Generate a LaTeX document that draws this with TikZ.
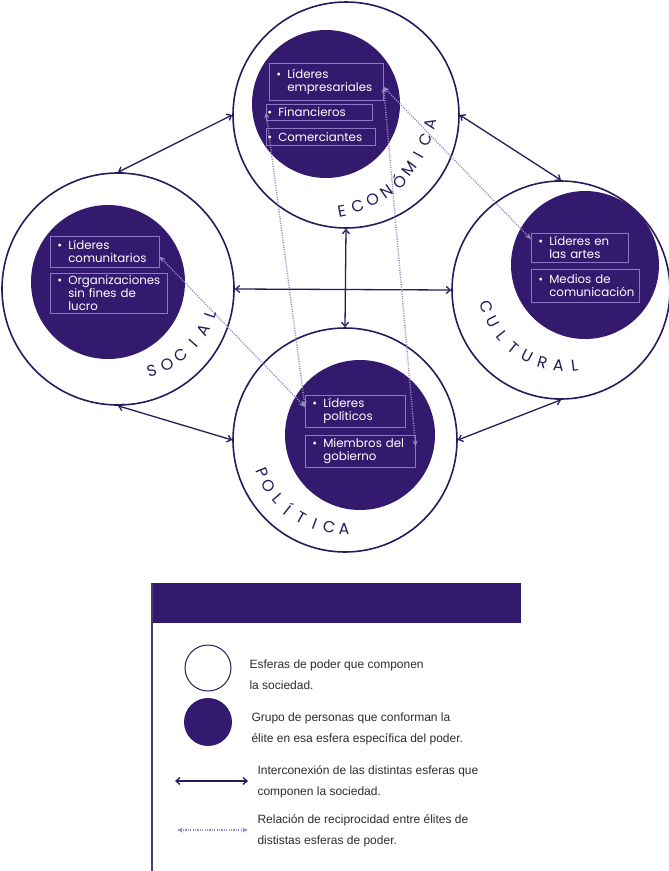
\documentclass[tikz,border=0pt]{standalone}
\usepackage{fontspec}
\setmainfont{Liberation Sans}
\newfontfamily\mfont{Poppins}
\usetikzlibrary{arrows.meta,positioning}

\definecolor{elite}{RGB}{52,26,110}
\definecolor{ring}{RGB}{40,26,92}
\definecolor{boxln}{RGB}{140,120,200}
\definecolor{recipc}{RGB}{150,140,200}
\definecolor{legtxt}{RGB}{45,45,45}

\newcommand{\blt}{\makebox[11pt][l]{\textbullet}}
\newcommand{\ind}{\hspace*{11pt}}
\hyphenpenalty=10000

\begin{document}
\begin{tikzpicture}[x=1pt,y=1pt,
        sphere/.style={circle, draw=ring, line width=1.6pt, fill=white, inner sep=0pt},
        elitecirc/.style={circle, fill=elite, inner sep=0pt},
        grp/.style={draw=boxln, line width=0.6pt, text=white, align=left,
                    anchor=north west, inner xsep=7pt, inner ysep=2pt,
                    font=\mfont\fontsize{11.8}{13}\selectfont},
        grptight/.style={grp, inner xsep=1pt},
        sphlbl/.style={text=ring, inner sep=0pt,
                       font=\mfont\fontsize{16}{16}\selectfont},
        link/.style={{Straight Barb[length=4pt,width=7pt]}-{Straight Barb[length=4pt,width=7pt]},
                     line width=1.3pt, draw=ring},
        recip/.style={{Stealth[length=6pt,width=5pt]}-{Stealth[length=6pt,width=5pt]},
                      dash pattern=on 1.1pt off 1.3pt, line width=1.4pt, draw=recipc},
        legtext/.style={anchor=west, align=left, text=legtxt,
                        font=\fontsize{12}{21}\selectfont}
      ]
        \useasboundingbox (0,0) rectangle (669,-871);

        % spheres of power
        \node[sphere, minimum size=226pt] (eco) at (346,-115) {};
        \node[sphere, minimum size=232pt] (soc) at (118,-289) {};
        \node[sphere, minimum size=218pt] (cul) at (561,-290) {};
        \node[sphere, minimum size=224pt] (pol) at (345,-440) {};

        \draw[link] (eco.west) -- (soc.north);
        \draw[link] (eco.east) -- (cul.north);
        \draw[link] (eco.south) -- (pol.north);
        \draw[link] (soc.east) -- (cul.west);
        \draw[link] (soc.south) -- (pol.west);
        \draw[link] (cul.south) -- (pol.east);

        % elites
        \node[elitecirc, minimum size=148pt] (ecoE) at (326,-104) {};
        \node[elitecirc, minimum size=154pt] (socE) at (108,-282) {};
        \node[elitecirc, minimum size=148pt] (culE) at (585,-265) {};
        \node[elitecirc, minimum size=150pt] (polE) at (360,-435) {};

        \node[grp, text width=100pt, minimum height=37pt] (emp) at (269,-63)
          {\blt L\'ideres\\\ind empresariales};
        \node[grptight, text width=104pt, minimum height=16pt] (fin) at (266,-104)
          {\blt Financieros};
        \node[grptight, text width=107pt, minimum height=17pt] (com) at (266,-128)
          {\blt Comerciantes};

        \node[grp, text width=95pt, minimum height=31pt] (comu) at (50,-236)
          {\blt L\'ideres\\\ind comunitarios};
        \node[grp, text width=103pt, minimum height=40pt] (ong) at (50,-273)
          {\blt Organizaciones\\\ind sin fines de\\\ind lucro};

        \node[grp, text width=83pt, minimum height=29pt] (art) at (531,-233)
          {\blt L\'ideres en\\\ind las artes};
        \node[grp, text width=94pt, minimum height=33pt] (med) at (531,-269)
          {\blt Medios de\\\ind comunicaci\'on};

        \node[grp, text width=86pt, minimum height=32pt] (lpol) at (305,-395)
          {\blt L\'ideres\\\ind pol\'iticos};
        \node[grp, text width=96pt, minimum height=32pt] (gob) at (305,-435)
          {\blt Miembros del\\\ind gobierno};

        % reciprocity between elites
        \draw[recip] (emp.-5) -- (art.170);
        \draw[recip] (emp.-5) -- (gob.5);
        \draw[recip] (fin.west) -- (lpol.175);
        \draw[recip] (comu.-5) -- (lpol.175);

        % sphere names, one letter at a time along an arc
        \begin{scope}[shift={(320,-100)}]
          \foreach \ch [count=\i from 0, evaluate=\i as \a using -78.9+\i*8.3] in {E,C,O,N,Ó,M,I,C,A}
            \node[sphlbl, rotate=\a+90] (ecoL\i) at (\a:113) {\ch};
        \end{scope}
        \begin{scope}[shift={(125,-285)}]
          \foreach \ch [count=\i from 0, evaluate=\i as \a using -72.8+\i*10.7] in {S,O,C,I,A,L}
            \node[sphlbl, rotate=\a+90] (socL\i) at (\a:90) {\ch};
        \end{scope}
        \begin{scope}[shift={(565,-285)}]
          \foreach \ch [count=\i from 0, evaluate=\i as \a using 195.7+\i*11.6] in {C,U,L,T,U,R,A,L}
            \node[sphlbl, rotate=\a+90] (culL\i) at (\a:81) {\ch};
        \end{scope}
        \begin{scope}[shift={(345,-440)}]
          \foreach \ch [count=\i from 0, evaluate=\i as \a using 201.7+\i*9.67] in {P,O,L,Í,T,I,C,A}
            \node[sphlbl, rotate=\a+90] (polL\i) at (\a:89) {\ch};
        \end{scope}

        % legend
        \fill[elite] (152,-583) rectangle (521,-623);
        \draw[ring!85, line width=1.2pt] (152,-583) -- (152,-871);

        \node[sphere, minimum size=46pt, line width=1pt] (lgS) at (208,-668) {};
        \node[elitecirc, minimum size=48pt] (lgE) at (208,-722) {};
        \coordinate (lgA1) at (175,-781);
        \coordinate (lgA2) at (248,-781);
        \draw[link] (lgA1) -- (lgA2);
        \coordinate (lgR1) at (177,-830);
        \coordinate (lgR2) at (248,-830);
        \draw[recip] (lgR1) -- (lgR2);

        \node[legtext] (lgtS) at (246,-675) {Esferas de poder que componen\\la sociedad.};
        \node[legtext] (lgtE) at (248,-729) {Grupo de personas que conforman la\\\'elite en esa esfera espec\'ifica del poder.};
        \node[legtext] (lgtA) at (254,-782) {Interconexi\'on de las distintas esferas que\\componen la sociedad.};
        \node[legtext] (lgtR) at (254,-831) {Relaci\'on de reciprocidad entre \'elites de\\dististas esferas de poder.};
      \end{tikzpicture}
\end{document}
